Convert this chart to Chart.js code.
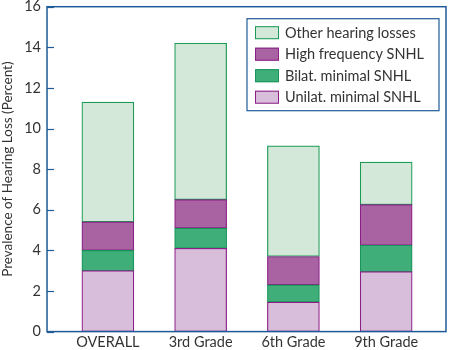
<!DOCTYPE html>
<html>
<head>
<meta charset="utf-8">
<script src="https://cdn.jsdelivr.net/npm/chart.js@4"></script>
<style>
    html, body { margin: 0; padding: 0; background: #fff; overflow: hidden; }
    #wrap { width: 450px; height: 358px; margin-top: -8px; }
</style>
</head>
<body>
<div id="wrap"><canvas id="hearingChart"></canvas></div>
<script>
// Stacked prevalence of hearing loss by grade.
const categories = ['OVERALL', '3rd Grade', '6th Grade', '9th Grade'];
const unilatMinimal = [3.0, 4.1, 1.45, 2.95];
const bilatMinimal = [1.0, 1.0, 0.85, 1.3];
const highFrequency = [1.4, 1.4, 1.4, 2.0];
const otherLosses = [5.9, 7.7, 5.45, 2.1];
const yTicks = [0, 2, 4, 6, 8, 10, 12, 14, 16];

const FONT = 'Lato, "Open Sans", sans-serif';
const TEXT = '#333333';
const FRAME = '#1f5b99';

const toPoints = (arr) => arr.map((v, i) => ({ x: i, y: v }));

const series = [
    { label: 'Unilat. minimal SNHL', data: unilatMinimal, fill: '#d8bedb', border: '#8c1f86' },
    { label: 'Bilat. minimal SNHL', data: bilatMinimal, fill: '#3fae79', border: '#17955a' },
    { label: 'High frequency SNHL', data: highFrequency, fill: '#a963a3', border: '#8c1f86' },
    { label: 'Other hearing losses', data: otherLosses, fill: '#d3e8d9', border: '#1a9a55' }
];

// Blue frame round the plot, inward y ticks and the boxed legend inside the plot.
const framePlugin = {
    id: 'frameAndLegend',
    afterDraw(chart) {
        const { ctx, chartArea: a } = chart;
        const y = chart.scales.y;
        ctx.save();
        ctx.strokeStyle = FRAME;
        ctx.lineWidth = 1.5;
        ctx.strokeRect(a.left, a.top, a.right - a.left, a.bottom - a.top);

        ctx.lineWidth = 1.2;
        yTicks.forEach(t => {
            const py = Math.round(y.getPixelForValue(t)) + 0.5;
            ctx.beginPath();
            ctx.moveTo(a.left, py);
            ctx.lineTo(a.left + 7, py);
            ctx.stroke();
        });

        const boxW = 192, boxH = 92;
        const bx = a.right - 7 - boxW, by = a.top + 12;
        ctx.fillStyle = '#ffffff';
        ctx.fillRect(bx, by, boxW, boxH);
        ctx.strokeStyle = FRAME;
        ctx.lineWidth = 1.2;
        ctx.strokeRect(bx, by, boxW, boxH);

        ctx.font = `14.5px ${FONT}`;
        ctx.textBaseline = 'middle';
        [...series].reverse().forEach((s, i) => {
            const cy = by + 14 + i * 21.5;
            ctx.fillStyle = s.fill;
            ctx.fillRect(bx + 8, cy - 6.5, 24, 13);
            ctx.strokeStyle = s.border;
            ctx.lineWidth = 1;
            ctx.strokeRect(bx + 8.5, cy - 6, 23, 12);
            ctx.fillStyle = TEXT;
            ctx.fillText(s.label, bx + 38, cy + 0.5);
        });
        ctx.restore();
    }
};

new Chart(document.getElementById('hearingChart').getContext('2d'), {
    type: 'bar',
    data: {
        datasets: series.map(s => ({
            label: s.label,
            data: toPoints(s.data),
            backgroundColor: s.fill,
            borderColor: s.border,
            borderWidth: 1.2,
            borderSkipped: false,
            barThickness: 52
        }))
    },
    options: {
        responsive: true,
        maintainAspectRatio: false,
        animation: false,
        layout: { padding: { top: 0, right: 4, left: 0, bottom: -3 } },
        plugins: { legend: { display: false }, tooltip: { enabled: false } },
        scales: {
            x: {
                type: 'linear',
                stacked: true,
                offset: false,
                min: -0.656,
                max: 3.645,
                afterBuildTicks: (scale) => { scale.ticks = categories.map((_, i) => ({ value: i })); },
                grid: { display: false, drawTicks: false, offset: false },
                border: { display: false },
                ticks: {
                    callback: (v) => categories[v] ?? '',
                    autoSkip: false,
                    maxRotation: 0,
                    padding: 2,
                    color: TEXT,
                    font: { family: FONT, size: 14.5 }
                }
            },
            y: {
                stacked: true,
                min: 0,
                max: 16,
                afterBuildTicks: (scale) => { scale.ticks = yTicks.map(v => ({ value: v })); },
                grid: { display: false, drawTicks: false },
                border: { display: false },
                ticks: {
                    padding: 6,
                    color: TEXT,
                    font: { family: FONT, size: 14.5 }
                },
                title: {
                    display: true,
                    text: 'Prevalence of Hearing Loss (Percent)',
                    color: TEXT,
                    padding: { top: 0, bottom: 2 },
                    font: { family: FONT, size: 13.5 }
                }
            }
        }
    },
    plugins: [framePlugin]
});
</script>
</body>
</html>
